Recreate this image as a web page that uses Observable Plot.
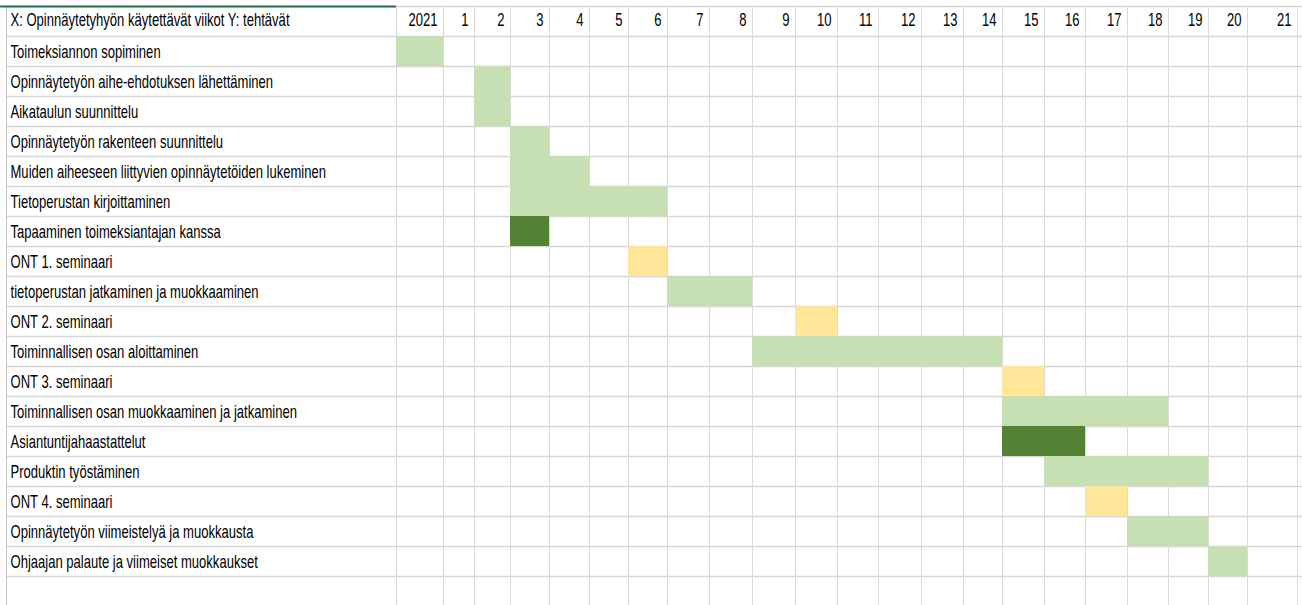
<!DOCTYPE html>
<html>
<head>
<meta charset="utf-8">
<script src="https://cdn.jsdelivr.net/npm/d3@7"></script>
<script src="https://cdn.jsdelivr.net/npm/@observablehq/plot@0.6"></script>
<style>
html, body { margin: 0; padding: 0; background: #fff; }
#chart svg { display: block; }
</style>
</head>
<body>
<div id="chart"></div>
<script>
// ---- data ----
const headerLabel = "X: Opinnäytetyhyön käytettävät viikot Y: tehtävät";
const weeks = ["2021","1","2","3","4","5","6","7","8","9","10","11","12","13","14","15","16","17","18","19","20","21"];
const tasks = [
  "Toimeksiannon sopiminen",
  "Opinnäytetyön aihe-ehdotuksen lähettäminen",
  "Aikataulun suunnittelu",
  "Opinnäytetyön rakenteen suunnittelu",
  "Muiden aiheeseen liittyvien opinnäytetöiden lukeminen",
  "Tietoperustan kirjoittaminen",
  "Tapaaminen toimeksiantajan kanssa",
  "ONT 1. seminaari",
  "tietoperustan jatkaminen ja muokkaaminen",
  "ONT 2. seminaari",
  "Toiminnallisen osan aloittaminen",
  "ONT 3. seminaari",
  "Toiminnallisen osan muokkaaminen ja jatkaminen",
  "Asiantuntijahaastattelut",
  "Produktin työstäminen",
  "ONT 4. seminaari",
  "Opinnäytetyön viimeistelyä ja muokkausta",
  "Ohjaajan palaute ja viimeiset muokkaukset"
];
const startWeek = ["2021","2","2","3","3","3","3","6","7","10","9","15","15","15","16","17","18","20"];
const endWeek   = ["2021","2","2","3","4","6","3","6","8","10","14","15","18","16","19","17","19","20"];
const kinds = ["työ","työ","työ","työ","työ","työ","tapaaminen","seminaari","työ","seminaari","työ","seminaari","työ","tapaaminen","työ","seminaari","työ","työ"];
const kindNames = ["työ","tapaaminen","seminaari"];

// ---- layout / style ----
const kindColors = ["#C6E0B4","#548235","#FFE699"];
const columnEdgesPx = [6,396,443,474,510,549,589,628,667,709,752,795,837,878,921,963,1002,1044,1085,1127,1168,1208,1247,1297];
const fontFamily = "'Liberation Sans', Arial, sans-serif";
const fontSize = 18;
const textSqueeze = 0.725;

const rows = tasks.map((t, i) => ({
  task: t,
  row: i + 1,
  x1: weeks.indexOf(startWeek[i]),
  x2: weeks.indexOf(endWeek[i]) + 1,
  kind: kinds[i]
}));
const nRows = tasks.length + 2;

const chart = Plot.plot({
  width: 1302,
  height: 605,
  margin: 0,
  style: { fontFamily, fontSize: fontSize + "px", background: "#fff" },
  x: { type: "linear", domain: d3.range(-1, weeks.length + 1), range: columnEdgesPx, axis: null },
  y: { type: "linear", domain: [0, nRows], range: [6, 6 + nRows * 30], axis: null },
  color: { type: "ordinal", domain: kindNames, range: kindColors },
  marks: [
    Plot.ruleY(d3.range(nRows), { y: d => d, x1: -1, x2: weeks.length + 0.2, stroke: "#d6d6d6", strokeWidth: 1.5 }),
    Plot.ruleX(d3.range(weeks.length + 1), { x: d => d, y1: 0, y2: nRows, stroke: "#d9d9d9", strokeWidth: 1 }),
    Plot.ruleX([-1], { x: d => d, y1: 0, y2: nRows, stroke: "#c6c6c6", strokeWidth: 1 }),
    Plot.rect(rows, { x1: "x1", x2: "x2", y1: "row", y2: d => d.row + 1, fill: "kind" }),
    Plot.ruleY([0], { y: d => d, x1: -1.015, x2: 0, stroke: "#217346", strokeWidth: 2 }),
    Plot.text(rows, { x: -1, y: d => d.row + 0.5, text: "task", textAnchor: "start", dx: 4, dy: 1, fontSize, fill: "#000" }),
    Plot.text([headerLabel], { x: -1, y: 0.5, text: d => d, textAnchor: "start", dx: 4, dy: -1, fontSize, fill: "#000" }),
    Plot.text(weeks, { x: (d, i) => i + 1, y: 0.5, text: d => d, textAnchor: "end", dx: -6, dy: -1, fontSize, fill: "#000" })
  ]
});

// condense text horizontally (Excel Calibri look)
chart.querySelectorAll('g[aria-label="text"] text').forEach(t => {
  let tr = t.getAttribute("transform");
  if (!tr) {
    const x = t.getAttribute("x") || 0, y = t.getAttribute("y") || 0;
    t.removeAttribute("x"); t.removeAttribute("y");
    tr = `translate(${x},${y})`;
  }
  t.setAttribute("transform", tr + ` scale(${textSqueeze},1)`);
});

document.getElementById("chart").appendChild(chart);
</script>
</body>
</html>
